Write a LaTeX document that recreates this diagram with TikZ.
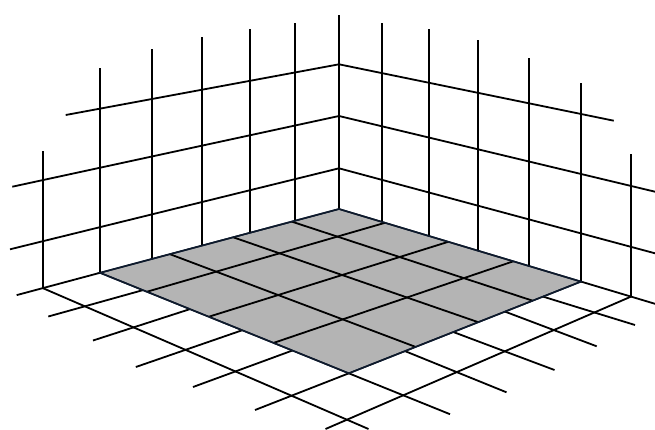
\documentclass[tikz,border=0pt]{standalone}
\begin{document}
\begin{tikzpicture}[x=1pt,y=-1pt,
  gridline/.style={draw=black,line width=1.8pt},
  graytile/.style={fill={rgb,255:red,180;green,180;blue,180},draw={rgb,255:red,14;green,26;blue,44},line width=1.6pt,line join=miter}]
\useasboundingbox (0,0) rectangle (655,429);
% floor corners of the grey square
\coordinate (O) at (339,209);
\coordinate (L) at (100,272.8);
\coordinate (R) at (581,281.6);
\coordinate (F) at (348.8,373.3);
% grey square
\draw[graytile] (O) -- (L) -- (F) -- (R) -- cycle;
% subdivisions of the grey square
\coordinate (ol1) at (291.7,221.6);
\coordinate (ol2) at (233.3,237.3);
\coordinate (ol3) at (170,254.2);
\coordinate (rf1) at (532.6,300.7);
\coordinate (rf2) at (478.3,322.2);
\coordinate (rf3) at (415.6,346.9);
\coordinate (or1) at (385,222.8);
\coordinate (or2) at (448.3,241.8);
\coordinate (or3) at (513.3,261.3);
\coordinate (lf1) at (147,291.7);
\coordinate (lf2) at (208.9,316.7);
\coordinate (lf3) at (273.6,342.9);
\foreach \i in {1,2,3}{
  \draw[gridline] (ol\i) -- (rf\i);
  \draw[gridline] (or\i) -- (lf\i);
}
% left wall verticals
\coordinate (wa0) at (O);
\coordinate (wa1) at (295,220.8);
\coordinate (wa2) at (250,232.8);
\coordinate (wa3) at (202,245.6);
\coordinate (wa4) at (152,259);
\coordinate (wa5) at (L);
\coordinate (wa6) at (43,288.2);
\coordinate (ta0) at (339,15);
\coordinate (ta1) at (295,23.3);
\coordinate (ta2) at (250,29.3);
\coordinate (ta3) at (202,36.7);
\coordinate (ta4) at (152,49.3);
\coordinate (ta5) at (100,68.3);
\coordinate (ta6) at (43,151);
% right wall verticals
\coordinate (wb1) at (382,222);
\coordinate (wb2) at (429,236.1);
\coordinate (wb3) at (478,250.8);
\coordinate (wb4) at (529,266.1);
\coordinate (wb5) at (R);
\coordinate (wb6) at (631,296.6);
\coordinate (tb1) at (382,23.3);
\coordinate (tb2) at (429,29.3);
\coordinate (tb3) at (478,39.7);
\coordinate (tb4) at (529,57.7);
\coordinate (tb5) at (581,82.7);
\coordinate (tb6) at (631,154);
\foreach \i in {0,...,6}{\draw[gridline] (wa\i) -- (ta\i);}
\foreach \i in {1,...,6}{\draw[gridline] (wb\i) -- (tb\i);}
% wall horizontals
\coordinate (hl1) at (10,249.3);
\coordinate (hl2) at (12.3,186.7);
\coordinate (hl3) at (65.7,115);
\coordinate (h1) at (339,168.3);
\coordinate (h2) at (339,116);
\coordinate (h3) at (339,64.3);
\coordinate (hr1) at (655,253.3);
\coordinate (hr2) at (655,191.7);
\coordinate (hr3) at (613.7,120.7);
\foreach \i in {1,2,3}{\draw[gridline] (hl\i) -- (h\i) -- (hr\i);}
% floor lines, left front
\coordinate (sb0) at (L);
\coordinate (sb1) at (143,290.1);
\coordinate (sb2) at (190,309.1);
\coordinate (sb3) at (242.3,330.2);
\coordinate (sb4) at (292.4,350.5);
\coordinate (sb5) at (F);
\coordinate (eb0) at (16.7,295.1);
\coordinate (eb1) at (48.3,316.5);
\coordinate (eb2) at (93,340.5);
\coordinate (eb3) at (135.8,367);
\coordinate (eb4) at (193,387);
\coordinate (eb5) at (255,410);
\foreach \i in {0,...,5}{\draw[gridline] (sb\i) -- (eb\i);}
\coordinate (ea6) at (368.5,429);
\draw[gridline] (wa6) -- (ea6);
% floor lines, right front
\coordinate (sa0) at (R);
\coordinate (sa1) at (543,296.6);
\coordinate (sa2) at (505,311.6);
\coordinate (sa3) at (453.3,332);
\coordinate (sa4) at (405,351.1);
\coordinate (sa5) at (F);
\coordinate (ea0) at (655,303.8);
\coordinate (ea1) at (635,325);
\coordinate (ea2) at (596.7,346.3);
\coordinate (ea3) at (554.5,370);
\coordinate (ea4) at (506.5,392.3);
\coordinate (ea5) at (450,414.2);
\foreach \i in {0,...,5}{\draw[gridline] (sa\i) -- (ea\i);}
\coordinate (eb6) at (325.5,429);
\draw[gridline] (wb6) -- (eb6);
% redraw grey border on top
\draw[graytile,fill=none] (O) -- (L) -- (F) -- (R) -- cycle;
\end{tikzpicture}
\end{document}
